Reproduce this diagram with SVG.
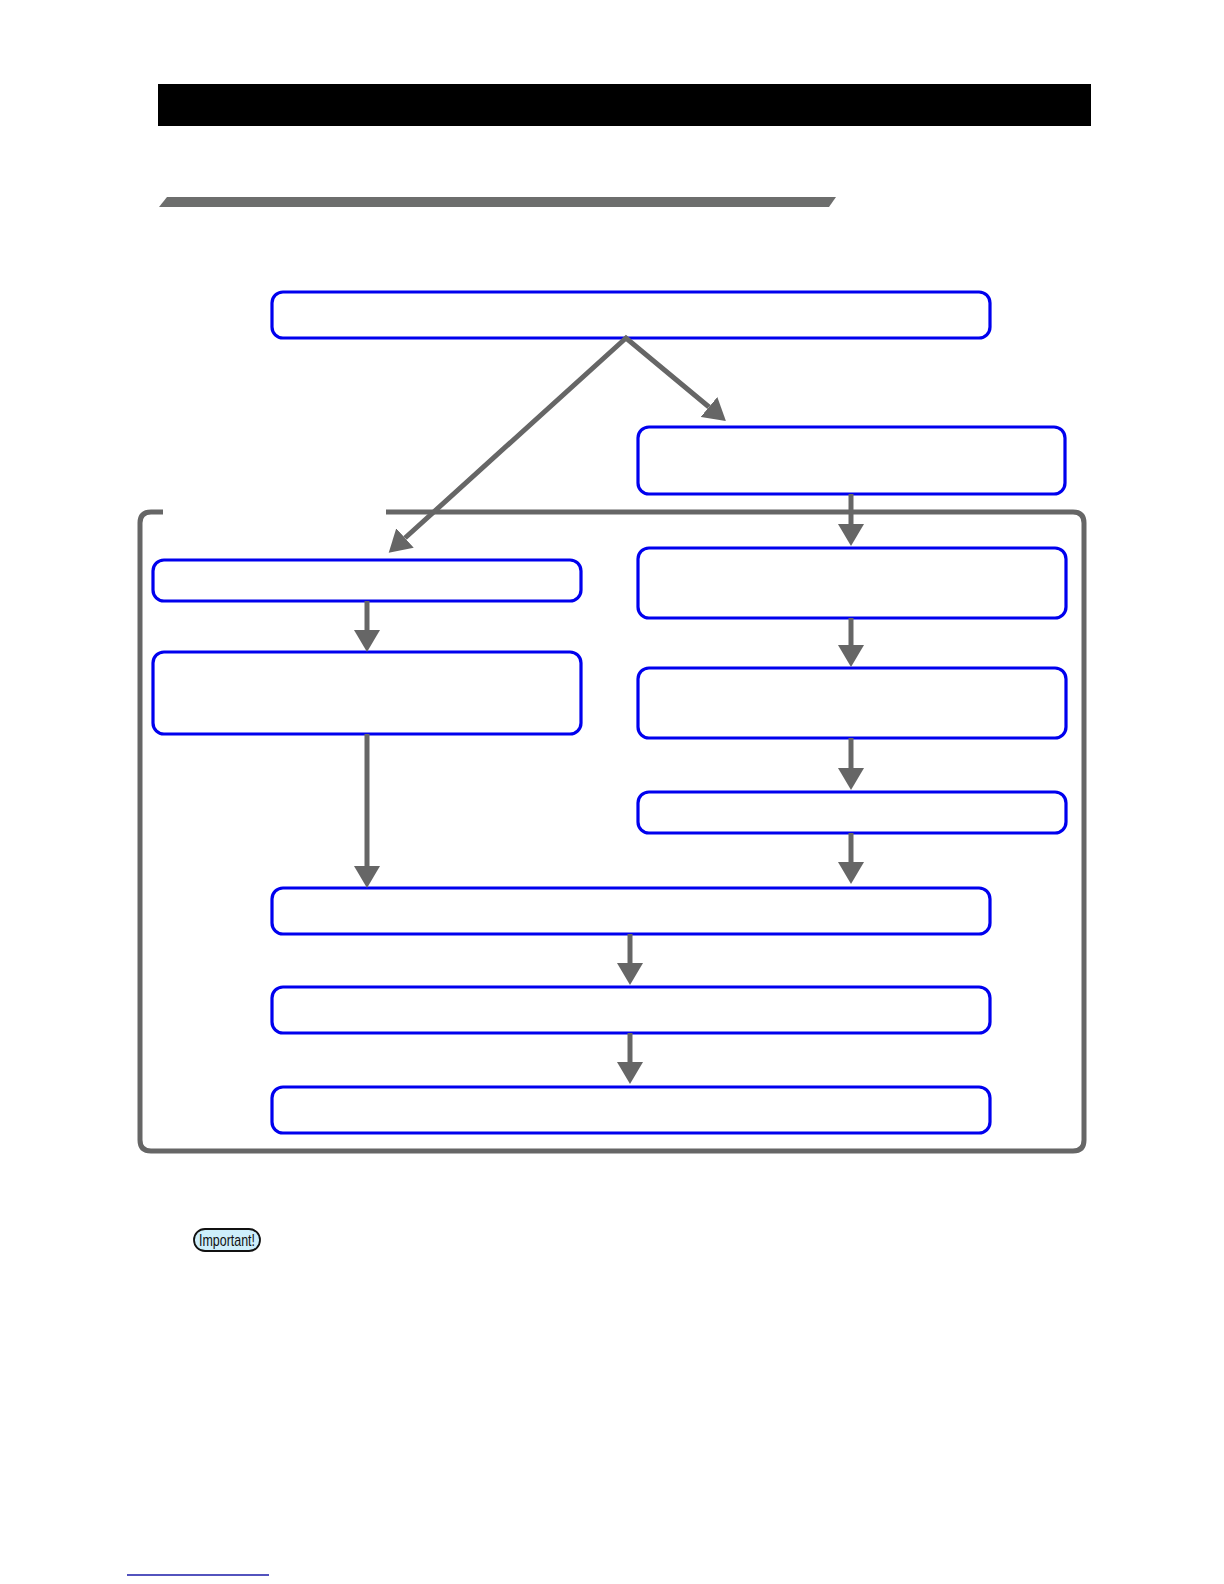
<svg xmlns="http://www.w3.org/2000/svg" width="1224" height="1584" viewBox="0 0 1224 1584">
<style>
.node{fill:#ffffff;stroke:#0000ee;stroke-width:3.2}
.conn{fill:none;stroke:#666666;stroke-width:5}
.frame{fill:none;stroke:#666666;stroke-width:5}
</style>
<defs>
<marker id="ah" markerUnits="userSpaceOnUse" markerWidth="24" markerHeight="26" refX="0" refY="13" orient="auto-start-reverse" viewBox="0 0 24 26">
<path d="M0,0 L22,13 L0,26 z" fill="#666666"/>
</marker>
</defs>
<rect width="1224" height="1584" fill="#ffffff"/>
<g id="header">
<rect x="158" y="84" width="933" height="42" fill="#000000"/>
<polygon points="159,207 167,197 836,197 829,207" fill="#6d6e6d"/>
</g>
<g id="frame">
<path class="frame" d="M163,512 L151,512 Q140,512 140,523 L140,1140 Q140,1151 151,1151 L1073,1151 Q1084,1151 1084,1140 L1084,523 Q1084,512 1073,512 L386,512"/>
</g>
<g id="n-top"><rect class="node" x="272" y="292" width="718" height="46" rx="11"/></g>
<g id="n-right1"><rect class="node" x="638" y="427" width="427" height="67" rx="11"/></g>
<g id="n-right2"><rect class="node" x="638" y="548" width="428" height="70" rx="11"/></g>
<g id="n-right3"><rect class="node" x="638" y="668" width="428" height="70" rx="11"/></g>
<g id="n-right4"><rect class="node" x="638" y="792" width="428" height="41" rx="11"/></g>
<g id="n-left1"><rect class="node" x="153" y="560" width="428" height="41" rx="11"/></g>
<g id="n-left2"><rect class="node" x="153" y="652" width="428" height="82" rx="11"/></g>
<g id="n-bottom1"><rect class="node" x="272" y="888" width="718" height="46" rx="11"/></g>
<g id="n-bottom2"><rect class="node" x="272" y="987" width="718" height="46" rx="11"/></g>
<g id="n-bottom3"><rect class="node" x="272" y="1087" width="718" height="46" rx="11"/></g>
<g id="connectors">
<path class="conn" d="M405,538 L626,338 L709,407" stroke-linejoin="miter" marker-start="url(#ah)" marker-end="url(#ah)"/>
<line class="conn" x1="851" y1="494" x2="851" y2="524" marker-end="url(#ah)"/>
<line class="conn" x1="851" y1="618" x2="851" y2="645" marker-end="url(#ah)"/>
<line class="conn" x1="851" y1="738" x2="851" y2="768" marker-end="url(#ah)"/>
<line class="conn" x1="851" y1="833" x2="851" y2="862" marker-end="url(#ah)"/>
<line class="conn" x1="367" y1="601" x2="367" y2="630" marker-end="url(#ah)"/>
<line class="conn" x1="367" y1="734" x2="367" y2="866" marker-end="url(#ah)"/>
<line class="conn" x1="630" y1="934" x2="630" y2="963" marker-end="url(#ah)"/>
<line class="conn" x1="630" y1="1033" x2="630" y2="1062" marker-end="url(#ah)"/>
</g>
<g id="important">
<rect x="194" y="1229" width="66" height="22" rx="11" fill="#cdeefb" stroke="#111111" stroke-width="1.8"/>
<text x="199" y="1246" font-family="'Liberation Sans', Arial, sans-serif" font-size="17" textLength="56" lengthAdjust="spacingAndGlyphs" fill="#111111">Important!</text>
</g>
<line x1="127" y1="1575" x2="269" y2="1575" stroke="#1a1aa8" stroke-width="1.5"/>
</svg>
